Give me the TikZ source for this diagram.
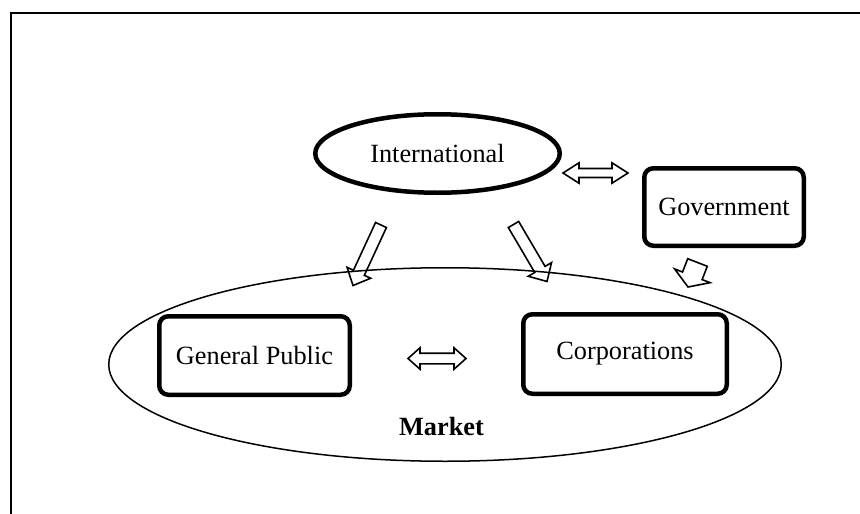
\documentclass[tikz,border=0pt]{standalone}
\usepackage{fontspec}
\setmainfont{Liberation Serif}
\usetikzlibrary{shapes.geometric,calc}

% Outlined block arrow from #1 (tail) to #2 (tip);
% #3 half shaft width, #4 half head width, #5 head length
\newcommand\hollowarrow[5]{%
  \path ($(#2)!#5!(#1)$) coordinate (#2-base);
  \draw[blockline] ($(#1)!#3!90:(#2)$) -- ($(#2-base)!#3!90:(#2)$)
    -- ($(#2-base)!#4!90:(#2)$) -- (#2)
    -- ($(#2-base)!#4!-90:(#2)$) -- ($(#2-base)!#3!-90:(#2)$)
    -- ($(#1)!#3!-90:(#2)$) -- cycle;}

% Outlined double-headed block arrow between #1 and #2
\newcommand\hollowdouble[5]{%
  \path ($(#1)!#5!(#2)$) coordinate (#1-base);
  \path ($(#2)!#5!(#1)$) coordinate (#2-base);
  \draw[blockline] (#1) -- ($(#1-base)!#4!90:(#2)$) -- ($(#1-base)!#3!90:(#2)$)
    -- ($(#2-base)!#3!90:(#2)$) -- ($(#2-base)!#4!90:(#2)$) -- (#2)
    -- ($(#2-base)!#4!-90:(#2)$) -- ($(#2-base)!#3!-90:(#2)$)
    -- ($(#1-base)!#3!-90:(#2)$) -- ($(#1-base)!#4!-90:(#2)$) -- cycle;}

\begin{document}
\begin{tikzpicture}[x=1pt,y=-1pt,
  every node/.style={font=\fontsize{26.3}{30}\selectfont, inner sep=0pt},
  actorbox/.style={draw, rectangle, line width=4.5pt, rounded corners=9pt},
  outerring/.style={draw, ellipse, line width=1.5pt},
  thickring/.style={draw, ellipse, line width=4.5pt},
  blockline/.style={line width=1.6pt, line join=miter}]
\useasboundingbox (0,0) rectangle (860,514);

% page frame
\coordinate (frame-bl) at (11,520);
\coordinate (frame-tl) at (11,12.5);
\coordinate (frame-tr) at (870,12.5);
\draw[line width=2pt] (frame-bl) -- (frame-tl) -- (frame-tr);

% market and its members
\node[outerring, minimum width=672.5pt, minimum height=193.5pt] (market) at (445,364.5) {};
\node[font=\fontsize{26.3}{30}\selectfont\bfseries] (marketlabel) at (441.5,427) {Market};
\node[actorbox, minimum width=190.5pt, minimum height=78.5pt] (public) at (254.5,355.5) {General Public};
\node[actorbox, minimum width=203.5pt, minimum height=79.5pt] (corp) at (625,354) {Corporations};

% outside actors
\node[thickring, minimum width=244.5pt, minimum height=78.5pt] (intl) at (437.5,153.5) {International};
\node[actorbox, minimum width=159.5pt, minimum height=77.5pt] (gov) at (724,207) {Government};

% two-way links
\coordinate (ig-w) at (563,173);
\coordinate (ig-e) at (628,173);
\hollowdouble{ig-w}{ig-e}{4.5pt}{10.2pt}{16pt}

\coordinate (pc-w) at (408,358.5);
\coordinate (pc-e) at (466,358.5);
\hollowdouble{pc-w}{pc-e}{5.3pt}{10.7pt}{12pt}

% influences on the market
\coordinate (il-tail) at (381,225);
\coordinate (il-tip) at (353,285.5);
\hollowarrow{il-tail}{il-tip}{6pt}{13pt}{14pt}

\coordinate (ir-tail) at (513.5,224.5);
\coordinate (ir-tip) at (547,281.5);
\hollowarrow{ir-tail}{ir-tip}{6pt}{13.5pt}{14pt}

\coordinate (gv-tail) at (697.5,262.5);
\coordinate (gv-tip) at (688,287);
\hollowarrow{gv-tail}{gv-tip}{10.5pt}{19pt}{12pt}
\end{tikzpicture}
\end{document}
